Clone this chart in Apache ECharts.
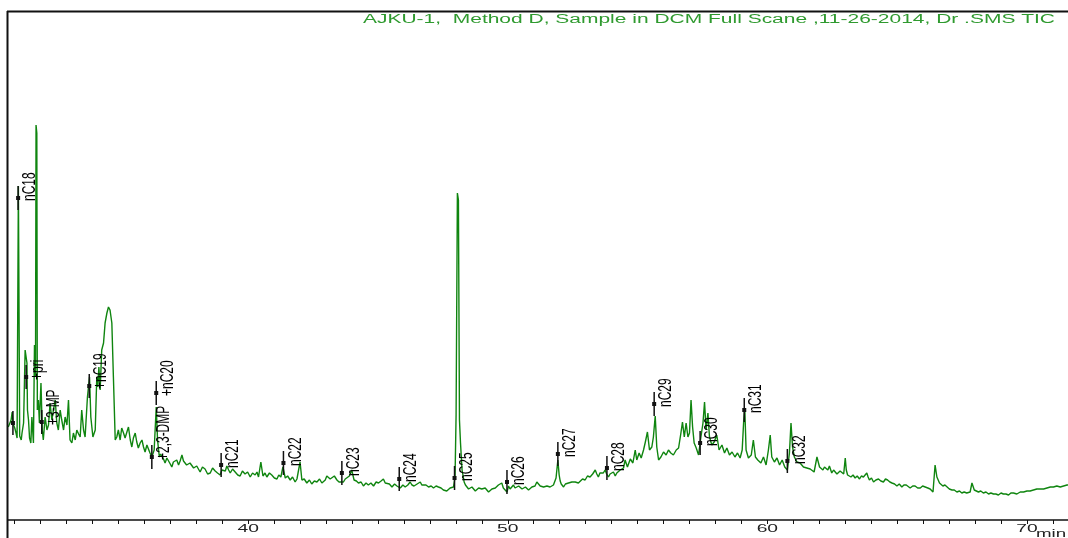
<!DOCTYPE html>
<html>
<head>
<meta charset="utf-8">
<script src="https://cdn.jsdelivr.net/npm/echarts@6/dist/echarts.min.js"></script>
<style>
  html, body { margin: 0; padding: 0; background: #fff; }
  #chart { width: 1068px; height: 538px; }
</style>
</head>
<body>
<div id="chart"></div>
<script>
// TIC trace, [retention time (min), abundance], split by elution window
const segEarly = [
  [30.76,93],[30.81,95],[30.87,100],[30.91,108],[30.95,96],[31.01,92],[31.06,87],[31.10,82],[31.15,334],[31.20,84],
  [31.26,80],[31.29,87],[31.35,97],[31.41,170],[31.48,157],[31.50,110],[31.54,100],[31.58,82],[31.63,77],[31.67,103],
  [31.73,77],[31.77,175],[31.81,143],[31.83,395],[31.86,387],[31.88,110],[31.92,120],[31.96,97],[32.02,137],[32.07,90],
  [32.11,80],[32.18,103],[32.25,90],[32.31,95],[32.37,117],[32.44,100],[32.50,110],[32.57,120],[32.63,97],[32.69,90],
  [32.76,110],[32.82,100],[32.89,90],[32.95,103],[33.02,95],[33.08,120],[33.14,80],[33.21,77],[33.27,87],[33.34,80],[33.40,90],
  [33.47,86],[33.53,83],[33.59,110],[33.66,90],[33.72,83],[33.81,123],[33.89,143],[33.94,103],[34.02,83],[34.11,90],[34.17,143],
  [34.21,133],[34.25,153],[34.30,130],[34.36,170],[34.43,177],[34.49,197],[34.56,207],[34.62,213],[34.68,210],[34.75,197],
  [34.81,143],[34.88,80],[34.94,83],[35.00,90],[35.07,80],[35.13,92],[35.20,87],[35.26,82],[35.33,88],[35.39,93],[35.46,80],
  [35.52,73],[35.58,82],[35.65,87],[35.71,78],[35.77,72],[35.84,77],[35.91,80],[35.97,73],[36.03,68],[36.10,75],[36.16,73],
  [36.22,67],[36.29,63],[36.38,70],[36.46,113],[36.51,80],[36.58,63],[36.63,66],[36.68,67],[36.74,61],[36.80,57],
  [36.87,62],[36.93,60],[37.00,56],[37.06,53],[37.12,58],[37.19,57],[37.25,60],[37.32,55],[37.38,59],[37.45,65],
  [37.51,59],[37.57,57],[37.63,55],[37.70,53],[37.76,57],[37.83,55],[37.90,52],[37.96,50],[38.02,54],[38.09,52]
];
const segMiddle = [
  [38.15,48],[38.24,53],[38.34,51],[38.44,46],[38.54,47],[38.63,52],[38.73,49],[38.82,47],[38.92,45],[38.99,50],
  [39.05,52],[39.12,49],[39.18,54],[39.25,50],[39.31,47],[39.40,51],[39.50,48],[39.60,45],[39.69,44],[39.78,49],
  [39.88,46],[39.98,48],[40.08,43],[40.17,47],[40.27,45],[40.34,48],[40.40,43],[40.49,58],[40.57,44],[40.65,47],
  [40.72,43],[40.82,47],[40.91,45],[41.01,42],[41.11,41],[41.18,45],[41.26,43],[41.34,53],[41.43,42],[41.52,44],
  [41.62,40],[41.71,43],[41.81,38],[41.88,41],[41.94,40],[42.00,58],[42.07,40],[42.16,41],[42.26,37],[42.36,40],
  [42.45,36],[42.55,39],[42.65,38],[42.75,41],[42.84,37],[42.91,39],[42.97,40],[43.03,44],[43.09,45],[43.16,41],
  [43.22,42],[43.32,44],[43.42,40],[43.50,38],[43.57,37],[43.67,38],[43.74,41],[43.80,42],[43.90,44],[43.99,50],
  [44.08,40],[44.17,39],[44.25,37],[44.35,38],[44.44,34],[44.54,37],[44.63,35],[44.73,37],[44.83,34],[44.93,38],
  [45.02,37],[45.12,39],[45.21,41],[45.28,37],[45.34,35],[45.44,36],[45.54,33],[45.64,36],[45.73,34],[45.80,36],
  [45.86,32],[45.96,35],[46.05,33],[46.15,35],[46.24,38],[46.31,35],[46.39,34],[46.51,36],[46.63,38],[46.69,35],
  [46.75,33],[46.85,35],[46.95,33],[47.05,34],[47.14,32],[47.24,34],[47.33,33],[47.43,32],[47.52,30],[47.58,31],
  [47.65,29],[47.72,31],[47.78,32],[47.85,34],[47.91,33],[47.97,43],[48.01,105],[48.06,327],[48.10,320],[48.14,100],
  [48.18,77],[48.24,50],[48.32,38],[48.37,35],[48.42,33],[48.49,31],[48.55,30],[48.62,33],[48.68,32],[48.75,29],
  [48.81,30],[48.88,32],[48.94,33],[49.00,31],[49.06,29],[49.13,32],[49.20,31],[49.26,28],[49.32,29],[49.39,31],
  [49.45,30],[49.52,32],[49.58,33],[49.64,35],[49.71,36],[49.77,37],[49.83,32],[49.90,30],[49.97,28],[50.03,34],
  [50.09,31],[50.16,33],[50.22,35],[50.28,32],[50.35,31],[50.42,34],[50.48,33],[50.55,31],[50.61,30],[50.68,33],
  [50.74,32],[50.80,30],[50.86,31],[50.93,33],[50.99,35],[51.05,34],[51.12,38],[51.18,36],[51.25,34],[51.31,32],
  [51.38,33],[51.45,35],[51.51,34],[51.57,32],[51.63,33],[51.70,34],[51.76,35],[51.81,37],[51.86,42],[51.93,60],
  [51.98,45],[52.02,39],[52.06,36],[52.11,35],[52.15,33],[52.22,36],[52.28,35],[52.34,37],[52.40,35],[52.47,38],
  [52.53,36],[52.60,38],[52.66,39],[52.72,37],[52.79,38]
];
const segHump = [
  [52.88,41],[52.98,40],[53.07,44],[53.17,43],[53.27,46],[53.37,50],[53.43,46],[53.49,43],[53.55,47],[53.62,45],
  [53.68,47],[53.75,50],[53.81,46],[53.88,43],[53.94,46],[54.01,45],[54.07,48],[54.14,44],[54.20,47],[54.26,46],
  [54.33,50],[54.40,48],[54.46,52],[54.52,60],[54.61,53],[54.72,61],[54.82,57],[54.91,70],[54.97,60],[55.06,67],
  [55.14,62],[55.23,70],[55.30,78],[55.38,88],[55.46,70],[55.55,73],[55.61,83],[55.68,104],[55.74,73],[55.81,60],
  [55.90,63],[56.00,68],[56.10,65],[56.19,70],[56.28,67],[56.38,65],[56.49,70],[56.58,72],[56.67,87],[56.73,98],
  [56.80,83],[56.87,97],[56.94,83],[57.00,87],[57.06,120],[57.12,93],[57.18,77],[57.26,72],[57.35,65],[57.44,83],
  [57.52,97],[57.58,118],[57.64,90],[57.71,107],[57.77,83],[57.86,75],[57.95,78],[58.05,85],[58.14,70],[58.25,75],
  [58.35,67],[58.44,72],[58.54,65],[58.64,68],[58.75,63],[58.85,67],[58.95,62],[59.03,70],[59.09,100],[59.13,112],
  [59.18,70],[59.27,62],[59.38,65],[59.46,80],[59.54,63],[59.63,60],[59.75,57],[59.85,63],[59.95,55],[60.04,70],
  [60.11,85],[60.17,63],[60.27,58],[60.37,62],[60.47,55],[60.57,60],[60.67,53],[60.77,50],[60.85,67],[60.91,97],
  [60.97,73],[61.04,63],[61.14,58],[61.20,60],[61.26,57],[61.33,55],[61.39,53],[61.46,55],[61.52,52],[61.58,54],
  [61.65,51],[61.72,50],[61.80,48],[61.91,63],[62.01,53],[62.07,51],[62.14,50],[62.20,53],[62.27,52],[62.33,50],[62.39,54]
];
const segLate = [
  [62.48,47],[62.55,50],[62.61,48],[62.68,46],[62.74,45],[62.80,49],[62.87,48],[62.94,46],[63.00,62],[63.04,50],
  [63.09,45],[63.16,46],[63.22,43],[63.30,45],[63.38,42],[63.46,44],[63.55,41],[63.62,44],[63.70,43],[63.77,45],
  [63.83,47],[63.88,43],[63.93,40],[64.01,42],[64.09,38],[64.18,40],[64.28,41],[64.37,39],[64.47,38],[64.55,41],
  [64.63,40],[64.72,38],[64.80,37],[64.90,36],[64.99,34],[65.08,36],[65.18,33],[65.26,35],[65.35,35],[65.42,33],
  [65.50,32],[65.60,34],[65.69,34],[65.79,32],[65.89,32],[65.98,34],[66.08,33],[66.18,32],[66.27,31],[66.33,30],
  [66.38,28],[66.46,55],[66.53,43],[66.58,40],[66.63,37],[66.70,36],[66.76,34],[66.84,35],[66.91,33],[67.01,31],
  [67.11,30],[67.20,30],[67.30,28],[67.40,29],[67.49,27],[67.58,28],[67.68,27],[67.75,29],[67.81,28],[67.88,37],
  [67.97,30],[68.05,29],[68.13,28],[68.22,29],[68.32,27],[68.42,28],[68.52,26],[68.61,27],[68.71,26],[68.80,26],
  [68.90,25],[69.00,27],[69.09,26],[69.19,26],[69.29,25],[69.38,27],[69.48,27],[69.61,26],[69.74,28],[69.87,28],
  [70.00,29],[70.12,29],[70.25,30],[70.38,31],[70.51,31],[70.64,31],[70.77,32],[70.90,33],[71.02,33],[71.15,34],
  [71.28,33],[71.41,34],[71.54,35],[71.59,35]
];

// Identified peaks: name, retention time, marker level
const peakNames  = ['', 'nC18', '+pri', '+3-MP', '+nC19', '+2,3-DMP', '+nC20', 'nC21', 'nC22', 'nC23',
                    'nC24', 'nC25', 'nC26', 'nC27', 'nC28', 'nC29', 'nC30', 'nC31', 'nC32'];
const peakTimes  = [30.94, 31.14, 31.45, 32.05, 33.88, 36.29, 36.46, 38.96, 41.36, 43.61,
                    45.82, 47.95, 49.97, 51.93, 53.82, 55.64, 57.41, 59.11, 60.77];
const peakLevels = [97, 322, 143, 98, 134, 63, 127, 55, 57, 47,
                    41, 42, 38, 66, 52, 116, 77, 110, 59];

// Time axis: a tick every minute, labels every ten
const minuteTicks = [31,32,33,34,35,36,37,38,39,40,41,42,43,44,45,46,47,48,49,50,
                     51,52,53,54,55,56,57,58,59,60,61,62,63,64,65,66,67,68,69,70,71];
const labelledTicks = [40, 50, 60, 70];
const axisUnit = 'min';
const titleText = 'AJKU-1,  Method D, Sample in DCM Full Scane ,11-26-2014, Dr .SMS TIC';

const trace = [].concat(segEarly, segMiddle, segHump, segLate);
const peaks = peakTimes.map((t, i) => [t, peakLevels[i]]);

const chart = echarts.init(document.getElementById('chart'), null, { renderer: 'canvas' });

function renderPeak(params, api) {
  const p = api.coord([api.value(0), api.value(1)]);
  const name = peakNames[params.dataIndex];
  const children = [
    { type: 'line', shape: { x1: p[0], y1: p[1] - 12, x2: p[0], y2: p[1] + 12 },
      style: { stroke: '#111', lineWidth: 1.5 } },
    { type: 'rect', shape: { x: p[0] - 2, y: p[1] - 2, width: 4, height: 4 },
      style: { fill: '#111' } }
  ];
  if (name) {
    children.push({
      type: 'text', x: p[0] + 12, y: p[1] + 3, rotation: Math.PI / 2, scaleX: 0.63,
      style: { text: name, font: '19px "Liberation Sans", Arial, sans-serif', fill: '#000',
               align: 'left', verticalAlign: 'middle' }
    });
  }
  return { type: 'group', children: children };
}

chart.setOption({
  animation: false,
  backgroundColor: '#fff',
  grid: { left: 8, right: 0, top: 11, bottom: 18, outerBoundsMode: 'none' },
  xAxis: {
    type: 'value', min: 30.75, max: 71.58,
    axisLine: { lineStyle: { color: '#111', width: 1.5 } },
    axisTick: { customValues: minuteTicks, length: 4, lineStyle: { color: '#111', width: 1 } },
    axisLabel: { show: false },
    splitLine: { show: false }
  },
  yAxis: { type: 'value', min: 0, max: 509, show: false },
  series: [
    { type: 'line', data: trace, showSymbol: false, silent: true, z: 2,
      lineStyle: { color: '#0f850f', width: 1.4 } },
    { type: 'custom', data: peaks, renderItem: renderPeak, silent: true, z: 3 }
  ]
});

// Header, frame and stretched axis lettering
const ctx = document.createElement('canvas').getContext('2d');
ctx.font = '12px "Liberation Sans"';
const titleWidth = ctx.measureText(titleText).width;

const graphics = [
  { type: 'line', shape: { x1: 7, y1: 11.5, x2: 1068, y2: 11.5 }, style: { stroke: '#111', lineWidth: 2 }, z: 10 },
  { type: 'line', shape: { x1: 7.5, y1: 11, x2: 7.5, y2: 538 }, style: { stroke: '#111', lineWidth: 2 }, z: 10 },
  { type: 'text', x: 1055, y: 19.5, scaleX: 692 / titleWidth, z: 10,
    style: { text: titleText, font: '12px "Liberation Sans", Arial, sans-serif', fill: '#2f9a2f',
             align: 'right', verticalAlign: 'middle' } },
  { type: 'text', x: 1036, y: 534, scaleX: 1.7, z: 10,
    style: { text: axisUnit, font: '11px "Liberation Sans", Arial, sans-serif', fill: '#222',
             align: 'left', verticalAlign: 'middle' } }
];
labelledTicks.forEach(v => {
  graphics.push({
    type: 'text', x: chart.convertToPixel({ xAxisIndex: 0 }, v), y: 528.5, scaleX: 1.75, z: 10,
    style: { text: String(v), font: '11px "Liberation Sans", Arial, sans-serif', fill: '#222',
             align: 'center', verticalAlign: 'middle' }
  });
});
chart.setOption({ graphic: graphics });
</script>
</body>
</html>
